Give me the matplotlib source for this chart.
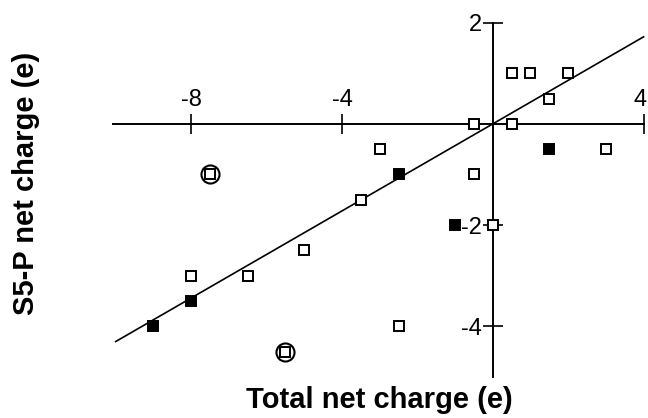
import numpy as np
import matplotlib.pyplot as plt
from matplotlib.transforms import offset_copy

plt.rcParams['font.family'] = ['Liberation Sans', 'DejaVu Sans']

# open squares
open_x = [0.5, 1, 2, 1.5, -0.5, 0.5, -3, 3, -0.5, -3.5, -5, -8, -6.5, -2.5, 0]
open_y = [1, 1, 1, 0.5, 0, 0, -0.5, -0.5, -1, -1.5, -2.5, -3, -3, -4, -2]
# filled squares
filled_x = [1.5, -2.5, -1, -8, -9]
filled_y = [-0.5, -1, -2, -3.5, -4]
# circled squares
circ_x = [-7.5, -5.5]
circ_y = [-1, -4.5]
# fit line
slope = 0.43
line_x = [-10, 4]

xticks = [-8, -4, 4]
yticks = [2, -2, -4]

fig = plt.figure(figsize=(6.48, 4.18), dpi=100)
ax = fig.add_axes([0.167, 0.074, 0.832, 0.896])

lx = np.array(line_x)
ax.plot(lx, slope * lx, color='k', lw=1.2, zorder=2)

ax.plot(open_x, open_y, 's', ms=7.5, mfc='white', mec='k', mew=1.4, ls='none', zorder=3)
ax.plot(filled_x, filled_y, 's', ms=7.5, mfc='k', mec='k', mew=1.4, ls='none', zorder=3)
ax.plot(circ_x, circ_y, 's', ms=7.5, mfc='white', mec='k', mew=1.4, ls='none', zorder=3)
ax.plot(circ_x, circ_y, 'o', ms=13, mfc='none', mec='k', mew=1.5, ls='none', zorder=3)

ax.set_xlim(-10.2, 4.1)
ax.set_ylim(-5.2, 2.2)

for s in ['right', 'bottom']:
    ax.spines[s].set_visible(False)
ax.spines['top'].set_position(('data', 0))
ax.spines['left'].set_position(('data', 0))
ax.spines['top'].set_bounds(-10.06, 4)
ax.spines['left'].set_bounds(-5, 2)
for s in ['top', 'left']:
    ax.spines[s].set_linewidth(1.4)

ax.xaxis.set_ticks_position('top')
ax.yaxis.set_ticks_position('left')
ax.set_xticks(xticks)
ax.set_yticks(yticks)
# last x label sits at the figure edge, drawn separately so it stays inside
ax.set_xticklabels([str(t) for t in xticks[:-1]] + [''])
ax.set_yticklabels([str(t) for t in yticks])
ax.tick_params(axis='both', direction='inout', length=14, width=1.2, labelsize=17)
ax.tick_params(axis='x', pad=2)
ax.tick_params(axis='y', pad=1)

tr = offset_copy(ax.transData, fig=fig, x=-4, y=13, units='dots')
ax.text(xticks[-1], 0, str(xticks[-1]), transform=tr, ha='center', va='bottom',
        fontsize=17, clip_on=False)

fig.text(0.586, 0.043, 'Total net charge (e)', ha='center', va='center',
         fontsize=21, fontweight='bold')
fig.text(0.04, 0.562, 'S5-P net charge (e)', ha='center', va='center',
         rotation=90, fontsize=21, fontweight='bold')

fig.savefig('out.png', dpi=100)
